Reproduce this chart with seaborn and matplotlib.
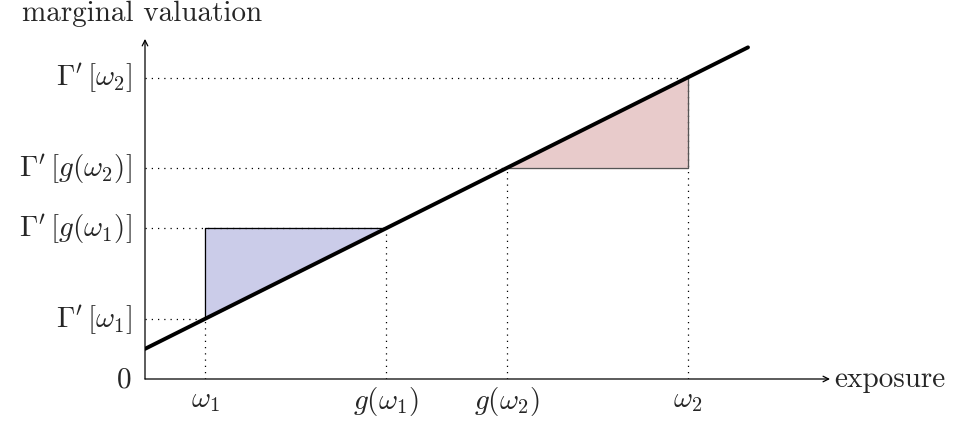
import matplotlib
matplotlib.use("Agg")
import matplotlib.pyplot as plt
import numpy as np
import pandas as pd
import seaborn as sns

# exposure points and marginal valuation line  (Gamma'(x) = a + b x)
x_pts = [1, 4, 6, 9]            # omega_1, g(omega_1), g(omega_2), omega_2
x_labels = [r"$\omega_1$", r"$g(\omega_1)$", r"$g(\omega_2)$", r"$\omega_2$"]
y_labels = ["0", r"$\Gamma'\,[\omega_1]$", r"$\Gamma'\,[g(\omega_1)]$",
            r"$\Gamma'\,[g(\omega_2)]$", r"$\Gamma'\,[\omega_2]$"]
intercept = 0.5
slope = 0.5
line_x = [0, 10]

y_pts = [intercept + slope * v for v in x_pts]
line = pd.DataFrame({"exposure": line_x,
                     "value": [intercept + slope * v for v in line_x]})

sns.set_style("white")
plt.rcParams["font.family"] = "serif"
plt.rcParams["font.serif"] = ["cmr10", "DejaVu Serif"]
plt.rcParams["mathtext.fontset"] = "cm"
plt.rcParams["axes.formatter.use_mathtext"] = True

fig = plt.figure(figsize=(9.58, 4.27), dpi=100)
u = 60.3  # pixels per unit
ax = fig.add_axes([145 / 958, 47 / 427, 12 * u / 958, 6 * u / 427])
ax.set_xlim(0, 12)
ax.set_ylim(0, 6)
ax.axis("off")

fs = 21
dot = dict(color="black", lw=0.9, ls=(0, (1, 4)))

# triangles
ax.fill([x_pts[0], x_pts[0], x_pts[1]], [y_pts[0], y_pts[1], y_pts[1]],
        color="#cbcce9", zorder=1)
ax.plot([x_pts[0], x_pts[0], x_pts[1]], [y_pts[0], y_pts[1], y_pts[1]],
        color="black", lw=0.9, zorder=2)
ax.fill([x_pts[2], x_pts[3], x_pts[3]], [y_pts[2], y_pts[2], y_pts[3]],
        color="#e8cbcb", zorder=1)
ax.plot([x_pts[2], x_pts[3], x_pts[3]], [y_pts[2], y_pts[2], y_pts[3]],
        color="#555555", lw=0.9, zorder=2)

# dotted guides
for xv, yv in zip(x_pts, y_pts):
    ax.plot([xv, xv], [0, yv], **dot, zorder=1)
    ax.plot([0, xv], [yv, yv], **dot, zorder=1)

sns.lineplot(data=line, x="exposure", y="value", color="black", lw=2.8,
             ax=ax, zorder=3)

# axes with arrows
ax.annotate("", xy=(11.36, 0), xytext=(0, 0),
            arrowprops=dict(arrowstyle="->", lw=0.9, color="black",
                            shrinkA=0, shrinkB=0))
ax.annotate("", xy=(0, 5.64), xytext=(0, 0),
            arrowprops=dict(arrowstyle="->", lw=0.9, color="black",
                            shrinkA=0, shrinkB=0))

ax.text(11.43, 0, "exposure", fontsize=fs, ha="left", va="center")
ax.text(-0.05, 6.07, "marginal valuation", fontsize=fs, ha="center",
        va="center", clip_on=False)

# tick labels
for xv, lab in zip(x_pts, x_labels):
    yoff = -0.35 if "g" in lab else -0.2
    ax.text(xv, yoff, lab, fontsize=fs, ha="center", va="center")
for yv, lab in zip([0] + y_pts, y_labels):
    ax.text(-0.22, yv, lab, fontsize=fs, ha="right", va="center")

ax.set_xlabel("")
ax.set_ylabel("")
fig.savefig("out.png", dpi=100)
